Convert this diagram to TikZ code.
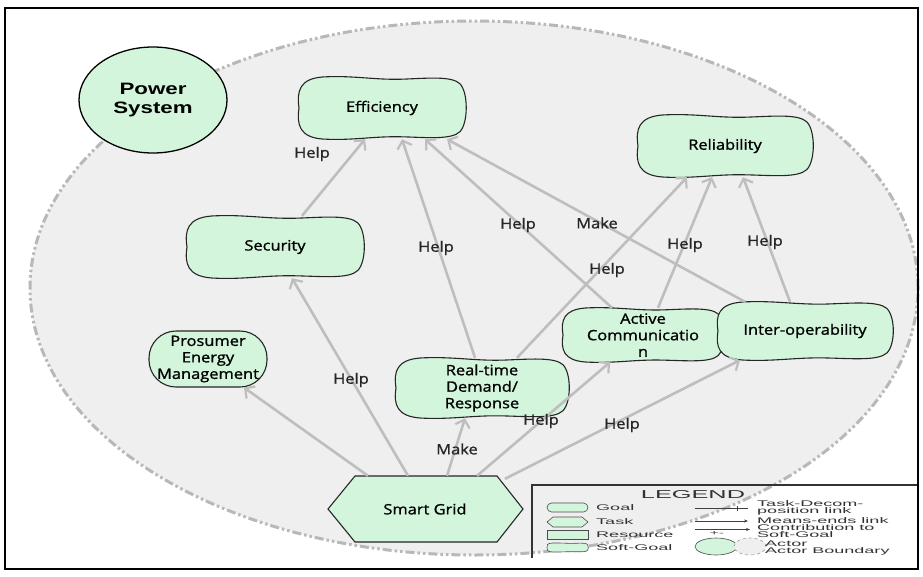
\documentclass[tikz,border=0pt]{standalone}
\usepackage{graphicx}
\usepackage{fontspec}
\setmainfont{Open Sans}[FakeStretch=1.15,FakeBold=1.2]
\newfontfamily\actorfont{Liberation Sans}[FakeStretch=1.35]
\newfontfamily\legendfont{Liberation Sans}[FakeStretch=2.2]
\usetikzlibrary{arrows.meta,shapes.geometric}

\definecolor{goalgreen}{HTML}{D3F5DC}
\definecolor{actorbg}{HTML}{EFEFEF}
\definecolor{linkgray}{HTML}{BEBEBE}
\definecolor{boundgray}{HTML}{B8B8B8}

\newcommand\nodefont{\fontsize{14.3}{16.5}\selectfont}

\tikzset{
  box/.style={rectangle, inner sep=0pt, draw=none, align=center, font=\nodefont},
  sgline/.style={draw=black!85, line width=1.1pt, fill=goalgreen},
  link/.style={draw=linkgray, line width=2.6pt,
    -{Straight Barb[length=7pt,width=15pt,line width=2.2pt]}},
  lbl/.style={font=\nodefont, inner sep=1pt, text=black!85},
  legtext/.style={font=\legendfont\fontsize{8.2}{7}\selectfont, inner sep=0pt,
    anchor=west, align=left, text=black!80},
  legicon/.style={draw=black!70, line width=0.6pt, fill=goalgreen},
}

% wavy soft-goal outline of half-width #3 and half-height #4 centred at (#1,#2)
\newcommand\softgoalshape[5][sgline]{%
  \begin{scope}[shift={(#2,#3)}, xscale=#4, yscale=#5]
    \path[#1] (-0.72,-1)
      .. controls (-0.35,-1.06) and (-0.1,-0.9) .. (0.25,-0.93)
      .. controls (0.55,-0.96) and (0.84,-1.04) .. (0.94,-0.78)
      .. controls (1.04,-0.5) and (1.04,0.48) .. (0.94,0.76)
      .. controls (0.84,1.03) and (0.55,0.95) .. (0.25,0.93)
      .. controls (-0.1,0.9) and (-0.35,1.06) .. (-0.72,1)
      .. controls (-0.99,0.94) and (-1.03,0.55) .. (-1,0)
      .. controls (-1.03,-0.55) and (-0.99,-0.94) .. (-0.72,-1) -- cycle;
  \end{scope}}

% soft-goal: outline plus a named node carrying the text
\newcommand\softgoal[6]{%
  \softgoalshape{#2}{#3}{#4}{#5}
  \node[box, minimum width={2*#4pt}, minimum height={2*#5pt}] (#1) at (#2,#3) {#6};}

\begin{document}
\begin{tikzpicture}[x=1pt,y=-1pt]
\useasboundingbox (0,0) rectangle (923,576);
\fill[white] (0,0) rectangle (923,576);

% actor boundary
\draw[boundgray, fill=actorbg, line width=3pt,
      dash pattern=on 9pt off 3pt on 2.5pt off 3pt on 2.5pt off 3pt]
  (474,288) ellipse [x radius=444pt, y radius=267pt];

% actor
\node[ellipse, draw=black, line width=1.3pt, fill=goalgreen, minimum width=148pt,
      minimum height=106pt, inner sep=0pt, align=center,
      font=\actorfont\bfseries\fontsize{16.5}{19}\selectfont] (ps) at (153,100) {Power\\System};

% soft-goals
\softgoal{eff}{382}{108}{83}{31}{Efficiency}
\softgoal{rel}{725}{146}{87}{31}{Reliability}
\softgoal{sec}{275}{247}{88}{31}{Security}
\softgoal{rt}{482}{388}{86}{30}{Real-time\\Demand/\\Response}
\softgoal{ac}{643}{335}{80}{27}{Active\\Communicatio\\n}
\softgoal{io}{805}{331}{87}{29}{Inter-operability}

% goal
\node[box, draw=black!85, line width=1.1pt, fill=goalgreen, rounded corners=27pt,
      minimum width=118pt, minimum height=56pt] (pem) at (208,359)
      {Prosumer\\Energy\\Management};

% task
\path[sgline] (328,509) -- (355,476) -- (497,476) -- (523,509) -- (497,542) -- (355,542) -- cycle;
\node[box, minimum width=195pt, minimum height=66pt] (sg) at (425,509) {Smart Grid};

% contributions to Efficiency
\draw[link] ([xshift=27pt]sec.north) -- ([xshift=-17pt]eff.south);
\draw[link] ([xshift=-7pt]rt.north) -- ([xshift=20pt]eff.south);
\draw[link] ([xshift=-31pt]ac.north) -- ([xshift=43pt]eff.south);
\draw[link] ([xshift=-60pt]io.north) -- ([xshift=65pt]eff.south);
% contributions to Reliability
\draw[link] ([xshift=35pt]rt.north) -- ([xshift=-38pt]rel.south);
\draw[link] ([xshift=15pt]ac.north) -- ([xshift=-13pt]rel.south);
\draw[link] ([xshift=-15pt]io.north) -- ([xshift=18pt]rel.south);
% links from Smart Grid
\draw[link] ([xshift=-57pt]sg.north) -- ([xshift=36pt]pem.south);
\draw[link] ([xshift=-17pt]sg.north) -- ([xshift=17pt]sec.south);
\draw[link] ([xshift=22pt]sg.north) -- ([xshift=-17pt]rt.south);
\draw[link] ([xshift=52pt]sg.north) -- ([xshift=-33pt]ac.south);
\draw[link] ([xshift=80pt,yshift=-3pt]sg.north) -- ([xshift=-65pt]io.south);

% link labels
\node[lbl] (l1) at (312,154) {Help};
\node[lbl] (l2) at (436,248) {Help};
\node[lbl] (l3) at (518,225) {Help};
\node[lbl] (l4) at (597,223) {Make};
\node[lbl] (l5) at (607,270) {Help};
\node[lbl] (l6) at (685,245) {Help};
\node[lbl] (l7) at (765,242) {Help};
\node[lbl] (l8) at (351,380) {Help};
\node[lbl] (l9) at (457,449) {Make};
\node[lbl] (l10) at (541,421) {Help};
\node[lbl] (l11) at (622,425) {Help};

% legend
\draw[black!80, line width=1.6pt] (532,558) -- (532,485) -- (918,485);
\node[font=\legendfont\fontsize{11.5}{12}\selectfont, inner sep=0pt, text=black!80] (legt) at (693,495) {LEGEND};
\node[legicon, rounded corners=4.5pt, minimum width=41pt, minimum height=9pt, inner sep=0pt] (lg1) at (567.5,507.5) {};
\path[legicon] (547,522) -- (553,517) -- (582,517) -- (588,522) -- (582,527) -- (553,527) -- cycle;
\path[legicon] (547,530) rectangle (588,539);
\softgoalshape[legicon]{567.5}{547.5}{20.5}{4.5}
\node[legtext] (lt1) at (596,507.5) {Goal};
\node[legtext] (lt2) at (596,521.5) {Task};
\node[legtext] (lt3) at (596,534.5) {Resource};
\node[legtext] (lt4) at (596,547.5) {Soft-Goal};

\coordinate (d1) at (695,508); \coordinate (d2) at (748,508);
\draw[black!75, line width=0.6pt] (d1) -- (d2);
\draw[black!75, line width=0.8pt] (737,505.5) -- (737,510.5);
\coordinate (m1) at (695,521); \coordinate (m2) at (748,521);
\draw[black!75, line width=0.6pt, -{Stealth[length=4pt,width=3pt]}] (m1) -- (m2);
\coordinate (c1) at (695,529.5); \coordinate (c2) at (750,529.5);
\draw[black!75, line width=0.6pt, -{Stealth[length=4pt,width=3pt]}] (c1) -- (c2);
\node[font=\legendfont\fontsize{7}{7}\selectfont, inner sep=0pt, text=black!75] (cpm) at (717,533.5) {+-};
\node[ellipse, draw=black!70, line width=0.6pt, fill=goalgreen, minimum width=42pt,
      minimum height=17pt, inner sep=0pt] (la) at (716,546.5) {};
\node[ellipse, draw=black!40, dashed, line width=0.6pt, fill=actorbg, minimum width=32pt,
      minimum height=17pt, inner sep=0pt] (lb) at (750,546.5) {};
\node[legtext] (lt5) at (757,507.5) {Task-Decom-\\position link};
\node[legtext] (lt6) at (757,521) {Means-ends link};
\node[legtext] (lt7) at (757,531.5) {Contribution to\\Soft-Goal};
\node[legtext] (lt8) at (765,548.5) {Actor\\Actor Boundary};

% frame
\draw[black, line width=2pt] (5,8) rectangle (918,569);
\end{tikzpicture}
\end{document}
